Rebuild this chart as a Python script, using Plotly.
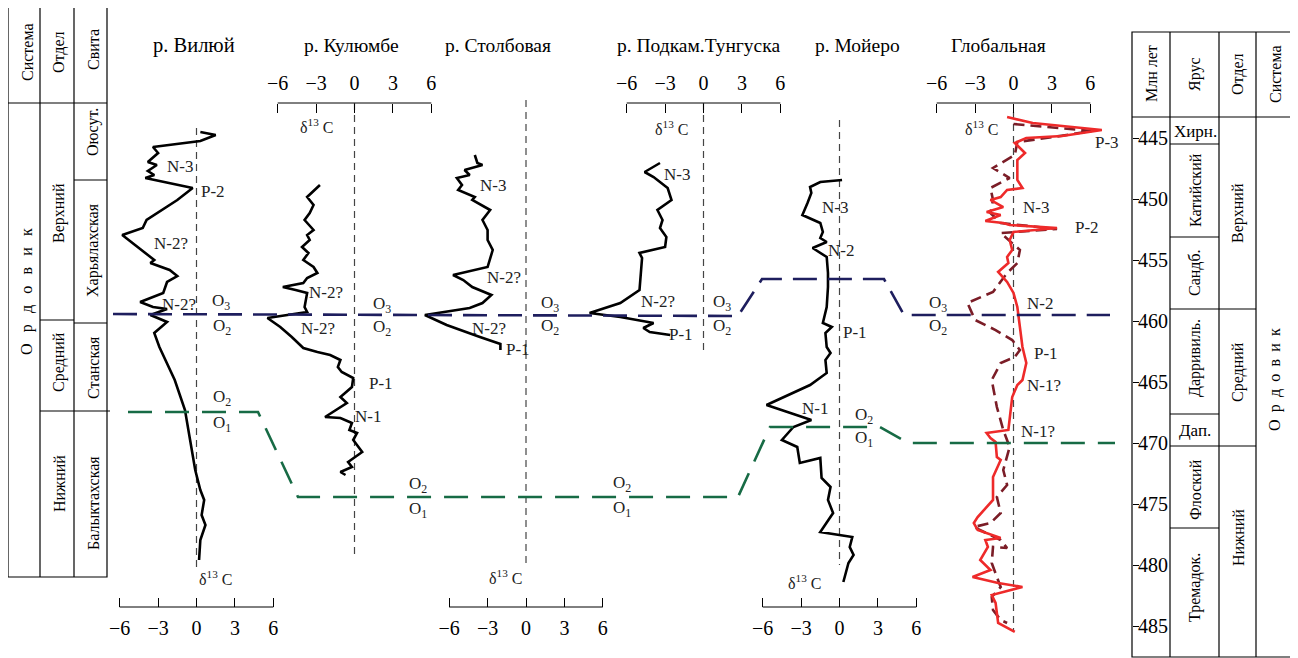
import plotly.graph_objects as go

W, H = 1298, 658
OFF = 8   # page body margin of the browser; canvas coordinates are screen pixels
SERIF = "Liberation Serif, Times New Roman, serif"

# ---------------- data ----------------
# local sections: d13C (‰) vs relative stratigraphic level (arbitrary units, top -> bottom)
viluy_d13c = [0.3, 1.5, 0.3, -3.4, -3.0, -3.8, -3.1, -3.8, -3.3, -4.0, -0.3, -1.5, -3.9, -4.2, -5.8,
              -5.0, -3.8, -3.3, -3.6, -2.1, -1.5, -2.3, -2.6, -4.4, -3.4, -2.3, -3.6, -2.3, -3.3, -2.9,
              -1.7, -0.9, -0.5, -0.1, 0.3, 0.6, 0.4, 0.7, 0.3, 0.2]
viluy_level = [132, 135, 141, 147, 153, 162, 165, 171, 175, 178, 188, 200, 220, 228, 235,
               243, 255, 260, 263, 270, 276, 282, 293, 302, 307, 309, 315, 322, 333, 347,
               380, 410, 440, 470, 490, 500, 515, 525, 540, 560]

kulyumbe_d13c = [-2.7, -3.7, -3.2, -3.5, -3.9, -3.2, -3.7, -3.5, -4.1, -3.6, -4.0, -3.2, -2.9, -3.7, -4.0,
                 -5.6, -4.6, -3.7, -3.9, -3.7, -6.8, -5.8, -4.9, -4.0, -2.9, -1.9, -1.1, -1.3, -1.0, -0.1,
                 -0.2, -1.1, -0.6, -1.4, -2.3, -1.1, -0.2, -0.4, 0.2, -0.1, 0.6, -0.5, -0.2, -1.1, -0.7]
kulyumbe_level = [185, 197, 205, 213, 220, 230, 235, 240, 247, 253, 260, 267, 273, 278, 283,
                  287, 290, 293, 307, 312, 318, 327, 337, 348, 352, 355, 360, 367, 372, 378,
                  387, 397, 403, 410, 417, 418, 423, 430, 433, 440, 452, 462, 467, 472, 475]

stolbovaya_d13c = [-4.0, -3.8, -3.4, -4.8, -4.4, -5.4, -5.0, -5.3, -4.0, -4.2, -2.8, -3.4, -3.0, -3.0,
                   -2.6, -2.8, -3.0, -5.7, -4.9, -4.2, -2.7, -3.4, -4.4, -7.9, -6.2, -3.6, -2.0, -2.0]
stolbovaya_level = [155, 163, 165, 170, 175, 178, 185, 190, 197, 200, 210, 220, 230, 240,
                    250, 258, 267, 275, 280, 287, 295, 303, 308, 315, 325, 337, 344, 350]

podkam_d13c = [-3.4, -4.6, -3.9, -2.8, -2.5, -3.6, -3.2, -3.4, -2.9, -3.0,
               -5.0, -4.8, -5.0, -6.5, -8.9, -6.5, -3.9, -4.7, -4.2, -2.6]
podkam_level = [163, 172, 177, 188, 200, 210, 220, 228, 237, 247,
                253, 258, 290, 303, 313, 317, 323, 328, 332, 335]

moyero_d13c = [0.2, -1.5, -2.3, -2.2, -2.5, -2.9, -1.5, -1.3, -1.5, -1.0, -2.1, -1.0, -0.9, -0.9,
               -1.0, -1.3, -0.6, -1.1, -1.0, -0.7, -1.1, -1.0, -2.3, -4.3, -5.7, -2.2, -3.6, -4.5,
               -3.3, -3.1, -1.5, -1.4, -0.7, -0.9, -0.5, -1.5, 1.0, 0.8, 1.1, 0.7, 0.3]
moyero_level = [180, 182, 187, 193, 203, 215, 223, 232, 238, 242, 248, 257, 273, 287,
                307, 323, 327, 333, 347, 353, 360, 373, 385, 397, 405, 420, 427, 440,
                447, 463, 458, 478, 487, 500, 513, 532, 537, 547, 555, 563, 582]

# global curves: age (Ma) vs d13C
global_age = [443.28, 443.77, 444.34, 444.84, 445.0, 445.41, 446.23, 446.8, 448.44, 449.1,
              449.26, 449.84, 450.08, 450.66, 451.07, 451.31, 451.8, 451.97, 452.13, 452.38,
              452.7, 453.36, 454.18, 454.75, 455.25, 455.98, 456.8, 457.7, 458.85, 460.74,
              462.13, 463.44, 464.84, 465.25, 466.23, 468.93, 469.18, 469.59, 469.92, 471.15,
              471.39, 472.79, 474.67, 476.07, 476.56, 477.13, 477.79, 477.95, 478.52, 479.59,
              480.41, 480.98, 481.48, 481.8, 482.46, 483.11, 484.75, 485.49]
global_d13c = [-0.5, 1.5, 6.9, 3.8, 1.0, 0.1, 0.9, 0.3, 0.3, 0.7,
               -0.5, -1.0, -1.8, -0.8, -2.1, -1.0, -2.2, -0.8, -0.3, 3.4,
               0.0, -0.3, -0.1, -0.5, -0.4, -1.2, -0.5, 0.0, 0.3, 0.5,
               0.7, 1.0, 0.7, 0.3, -0.1, -0.4, -2.1, -1.8, -1.4, -1.3,
               -1.0, -1.6, -1.6, -2.8, -3.1, -2.8, -1.0, -2.2, -2.0, -2.6,
               -1.8, -3.2, -1.2, 0.7, -1.7, -1.4, -1.2, 0.1]
global2_age = [443.85, 444.02, 444.43, 444.92, 445.33, 446.39, 447.46, 448.28, 449.1, 450.08,
               451.15, 451.97, 452.46, 452.79, 454.18, 455.25, 456.07, 457.62, 458.52, 459.92,
               460.74, 461.56, 462.38, 462.95, 463.44, 464.84, 467.05, 468.93, 470.33, 472.21,
               473.44, 474.43, 475.74, 476.56, 476.89, 477.95, 478.61, 478.52, 479.84, 480.98,
               481.8, 482.62, 483.69, 484.51, 484.75]
global2_d13c = [0.0, 1.8, 6.1, 3.1, 0.3, 0.1, -1.6, -0.3, -1.8, -1.6,
                -1.8, -1.0, 3.4, -1.0, 0.5, 0.3, -0.5, -1.6, -3.6, -3.0,
                -1.4, -0.1, 0.5, 0.1, -1.0, -1.7, -1.3, -0.8, -0.3, -0.8,
                -0.5, -1.3, -1.0, -1.8, -3.1, -1.0, -0.5, -1.6, -1.7, -1.3,
                -1.0, -1.7, -1.6, -1.0, -0.5]

d13c_ticks = [-6, -3, 0, 3, 6]
ma_ticks = [445, 450, 455, 460, 465, 470, 475, 480, 485]

titles = ["р. Вилюй", "р. Кулюмбе", "р. Столбовая", "р. Подкам.Тунгуска", "р. Мойеро", "Глобальная"]

# ---------------- layout helpers ----------------
S = 12.8      # px per permil
R = 10        # half range of each d13C axis
MA0_Y, MA_PX = 138.0, 12.2   # screen y of 445 Ma and px per Ma
AGE_TOP = 445 + (OFF - MA0_Y) / MA_PX
AGE_BOT = 445 + (H + OFF - MA0_Y) / MA_PX

panels = [
    dict(z=196.5, side="bottom", line_y=607, zero=(128, 568), d=viluy_d13c, lv=viluy_level, tx=194, tsize=20.5),
    dict(z=354.5, side="top", line_y=103, zero=(103, 555), d=kulyumbe_d13c, lv=kulyumbe_level, tx=351, tsize=19.5),
    dict(z=526.0, side="bottom", line_y=607, zero=(100, 565), d=stolbovaya_d13c, lv=stolbovaya_level, tx=498, tsize=19.5),
    dict(z=703.5, side="top", line_y=103, zero=(103, 350), d=podkam_d13c, lv=podkam_level, tx=698, tsize=19.5),
    dict(z=839.5, side="bottom", line_y=607, zero=(120, 565), d=moyero_d13c, lv=moyero_level, tx=857, tsize=19.5),
    dict(z=1013.5, side="top", line_y=103, zero=(112, 632), d=None, lv=None, tx=998, tsize=19.5),
]

fig = go.Figure()
layout = dict(
    width=W, height=H, margin=dict(l=0, r=0, t=0, b=0),
    paper_bgcolor="white", plot_bgcolor="rgba(0,0,0,0)", showlegend=False,
    yaxis=dict(domain=[0, 1], range=[H + OFF, OFF], visible=False, fixedrange=True),
    yaxis2=dict(overlaying="y", range=[AGE_BOT, AGE_TOP], anchor="free", position=(1132 - OFF) / W,
                side="left", ticks="inside", ticklen=6, tickcolor="black", tickvals=ma_ticks,
                ticklabelposition="inside", showline=False, showgrid=False, zeroline=False,
                tickfont=dict(family=SERIF, size=20, color="black"), fixedrange=True),
    xaxis7=dict(domain=[0, 1], range=[OFF, W + OFF], visible=False, fixedrange=True),
)
shapes = []
ann = []

for i, p in enumerate(panels, start=1):
    key = "xaxis" if i == 1 else f"xaxis{i}"
    ref = "x" if i == 1 else f"x{i}"
    layout[key] = dict(
        domain=[(p["z"] - R * S - OFF) / W, (p["z"] + R * S - OFF) / W], range=[-R, R],
        anchor="free", position=1 - (p["line_y"] - OFF) / H, side=p["side"],
        tickvals=d13c_ticks, ticks="inside", ticklen=9, tickwidth=1, tickcolor="black",
        ticklabelstandoff=9 if p["side"] == "top" else 7,
        showline=False, showgrid=False, zeroline=False, fixedrange=True,
        tickfont=dict(family=SERIF, size=20, color="black"),
    )
    # axis line from -6 to 6
    shapes.append(dict(type="line", xref=ref, yref="y", x0=-6, x1=6, y0=p["line_y"], y1=p["line_y"],
                       line=dict(color="black", width=1)))
    # zero line
    fig.add_trace(go.Scatter(x=[0, 0], y=list(p["zero"]), xaxis=ref, yaxis="y", mode="lines",
                             line=dict(color="#444", width=1.2, dash="7px,5px"), hoverinfo="skip"))
    if p["d"] is not None:
        fig.add_trace(go.Scatter(x=p["d"], y=p["lv"], xaxis=ref, yaxis="y", mode="lines",
                                 line=dict(color="black", width=2.6), hoverinfo="skip"))
    ann.append(dict(x=p["tx"], y=45, text=titles[i - 1], font=dict(size=p["tsize"])))

# hidden twin of the global d13C axis, paired with the age axis
layout["xaxis8"] = dict(overlaying="x6", range=[-R, R], visible=False, fixedrange=True)
fig.add_trace(go.Scatter(x=global2_d13c, y=global2_age, xaxis="x8", yaxis="y2", mode="lines",
                         line=dict(color="#7b1d27", width=2.6, dash="11px,6px"), hoverinfo="skip"))
fig.add_trace(go.Scatter(x=global_d13c, y=global_age, xaxis="x8", yaxis="y2", mode="lines",
                         line=dict(color="#ee2a2a", width=2.6), hoverinfo="skip"))

# boundary lines O3/O2 and O2/O1 (drawn on the pixel canvas)
o3o2_x = [113, 738, 762, 884, 904, 1110]
o3o2_y = [314, 316, 279, 279, 315, 315]
o2o1_x = [128, 258, 298, 738, 770, 880, 908, 1115]
o2o1_y = [412, 412, 497, 497, 427, 427, 443, 443]
fig.add_trace(go.Scatter(x=o3o2_x, y=o3o2_y, xaxis="x7", yaxis="y", mode="lines",
                         line=dict(color="#1e1e5e", width=2.6, dash="24px,11px"), hoverinfo="skip"))
fig.add_trace(go.Scatter(x=o2o1_x, y=o2o1_y, xaxis="x7", yaxis="y", mode="lines",
                         line=dict(color="#176b45", width=2.6, dash="24px,13px"), hoverinfo="skip"))

# ---------------- stratigraphic columns ----------------
def seg(x0, y0, x1, y1, w=1.2):
    shapes.append(dict(type="line", xref="x7", yref="y", x0=x0, y0=y0, x1=x1, y1=y1,
                       line=dict(color="black", width=w)))

# left column
shapes.append(dict(type="rect", xref="x7", yref="y", x0=8, x1=107, y0=5, y1=577,
                   line=dict(color="black", width=1.2)))
seg(40, 5, 40, 577); seg(74, 5, 74, 577)
seg(8, 103, 107, 103)
seg(40, 320, 74, 320)
seg(40, 411, 110, 411)
seg(74, 180, 107, 180)
seg(74, 323, 107, 323)

# right column
shapes.append(dict(type="rect", xref="x7", yref="y", x0=1132, x1=1294, y0=32, y1=657,
                   line=dict(color="black", width=1.2)))
seg(1170, 32, 1170, 657); seg(1219, 32, 1219, 657); seg(1256, 32, 1256, 657)
seg(1132, 117, 1294, 117)
seg(1170, 144, 1219, 144)
seg(1170, 237, 1219, 237)
seg(1170, 309, 1256, 309)
seg(1170, 414, 1219, 414)
seg(1170, 446, 1256, 446)
seg(1170, 528, 1219, 528)

ORD_WIDE = "\u2002\u2009".join("Ордовик")
ORD_MID = "\u00a0\u2009".join("Ордовик")

col_text = [
    (27, 52, "Система", -90), (59, 52, "Отдел", -90), (93, 50, "Свита", -90),
    (27, 292, ORD_WIDE, -90), (59, 213, "Верхний", -90), (59, 362, "Средний", -90),
    (59, 484, "Нижний", -90), (93, 132, "Оюсут.", -90), (93, 250, "Харьялахская", -90),
    (93, 368, "Станская", -90), (93, 503, "Балыктахская", -90),
    (1151, 74, "Млн лет", -90), (1195, 74, "Ярус", -90), (1238, 74, "Отдел", -90),
    (1275, 74, "Система", -90),
    (1195, 131, "Хирн.", 0), (1195, 190, "Катийский", -90), (1195, 273, "Сандб.", -90),
    (1195, 358, "Дарривиль.", -90), (1195, 430, "Дап.", 0), (1195, 490, "Флоский", -90),
    (1195, 588, "Тремадок.", -90), (1238, 213, "Верхний", -90), (1238, 372, "Средний", -90),
    (1238, 538, "Нижний", -90), (1275, 380, ORD_MID, -90),
]
for x, y, t, a in col_text:
    ann.append(dict(x=x, y=y, text=t, textangle=a, font=dict(size=16 if a else 17)))

marks = [
    (180, 166, "N-3"), (213, 191, "P-2"), (171, 243, "N-2?"), (179, 304, "N-2?"),
    (326, 292, "N-2?"), (318, 328, "N-2?"), (381, 383, "P-1"), (368, 416, "N-1"),
    (493, 185, "N-3"), (504, 277, "N-2?"), (489, 328, "N-2?"), (518, 349, "P-1"),
    (677, 174, "N-3"), (658, 301, "N-2?"), (681, 334, "P-1"),
    (835, 207, "N-3"), (841, 250, "N-2"), (855, 332, "P-1"), (815, 408, "N-1"),
    (1107, 142, "P-3"), (1036, 207, "N-3"), (1087, 227, "P-2"), (1040, 303, "N-2"),
    (1046, 353, "P-1"), (1044, 385, "N-1?"), (1038, 431, "N-1?"),
]
for x, y, t in marks:
    ann.append(dict(x=x, y=y, text=t, font=dict(size=17, color="#222")))

sys_marks = [
    (221, 302, "O<sub>3</sub>"), (222, 327, "O<sub>2</sub>"),
    (382, 305, "O<sub>3</sub>"), (382, 328, "O<sub>2</sub>"),
    (550, 304, "O<sub>3</sub>"), (550, 327, "O<sub>2</sub>"),
    (722, 303, "O<sub>3</sub>"), (722, 327, "O<sub>2</sub>"),
    (938, 304, "O<sub>3</sub>"), (938, 327, "O<sub>2</sub>"),
    (222, 398, "O<sub>2</sub>"), (222, 424, "O<sub>1</sub>"),
    (418, 485, "O<sub>2</sub>"), (418, 510, "O<sub>1</sub>"),
    (622, 484, "O<sub>2</sub>"), (622, 509, "O<sub>1</sub>"),
    (864, 416, "O<sub>2</sub>"), (864, 439, "O<sub>1</sub>"),
]
for x, y, t in sys_marks:
    ann.append(dict(x=x, y=y, text=t, font=dict(size=17, color="#222")))

d_marks = [(215, 578), (316, 126), (505, 577), (671, 128), (804, 582), (981, 128)]
for x, y in d_marks:
    ann.append(dict(x=x, y=y, text="δ<sup>13</sup> C", font=dict(size=16, color="#222")))

for a in ann:
    a.setdefault("xref", "x7")
    a.setdefault("yref", "y")
    a["showarrow"] = False
    a["xanchor"] = "center"
    a["yanchor"] = "middle"
    f = a.setdefault("font", {})
    f.setdefault("family", SERIF)
    f.setdefault("color", "black")

layout["shapes"] = shapes
layout["annotations"] = ann
fig.update_layout(**layout)
fig.write_html("out.html")
